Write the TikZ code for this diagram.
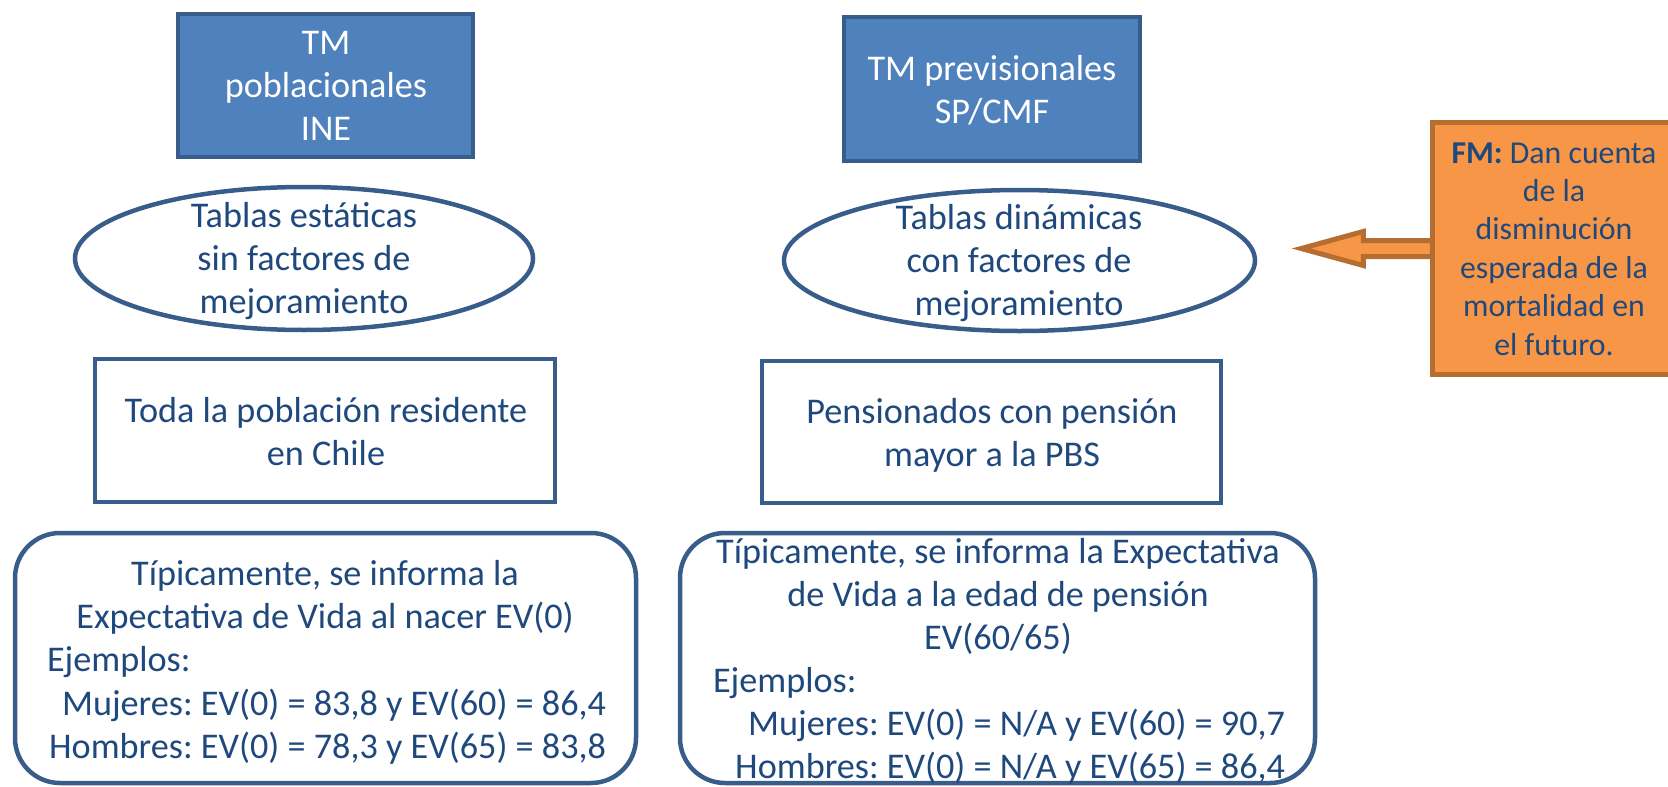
\documentclass[tikz,border=0pt]{standalone}
\usepackage{fontspec}
\setmainfont{Carlito}
\usetikzlibrary{shapes.geometric}
\definecolor{txt}{HTML}{1F497D}
\definecolor{brd}{HTML}{385D8A}
\definecolor{hdrfill}{HTML}{4F81BD}
\definecolor{orfill}{HTML}{F79646}
\definecolor{orbrd}{HTML}{B66D31}
\frenchspacing
\begin{document}
\begin{tikzpicture}[x=1pt,y=-1pt,
  every node/.style={inner sep=0pt, outer sep=0pt},
  body/.style={font=\fontsize{36.2}{43}\selectfont, text=txt, align=center, anchor=base},
  hdrtext/.style={body, text=white},
  hdrbox/.style={rectangle, draw=brd, fill=hdrfill, line width=4pt},
  plainbox/.style={rectangle, draw=brd, line width=4pt},
  ovalbox/.style={ellipse, draw=brd, line width=4.5pt},
  roundbox/.style={rectangle, rounded corners=45pt, draw=brd, line width=4.5pt},
  fmbox/.style={rectangle, draw=orbrd, fill=orfill, line width=5pt},
  fmarrow/.style={draw=orbrd, fill=orfill, line width=5pt, line join=miter},
  fmtext/.style={font=\fontsize{31.8}{38.4}\selectfont, text=txt, align=center, anchor=base}
]
\useasboundingbox (0,0) rectangle (1668,787);
\clip (0,0) rectangle (1668,787);

% left column (multi-line text nodes are placed by the baseline of their last line)
\node[hdrbox, minimum width=295, minimum height=143] (pob) at (325.5,85.5) {};
\node[hdrtext] (pobt) at (326,140) {TM\\poblacionales\\INE};
\node[ovalbox, minimum width=458, minimum height=143] (est) at (304,258.5) {};
\node[body] (estt) at (304,313) {Tablas estáticas\\sin factores de\\mejoramiento};
\node[plainbox, minimum width=460, minimum height=143] (res) at (325,430.5) {};
\node[body] (rest) at (326,465) {Toda la población residente\\en Chile};
\node[roundbox, minimum width=621, minimum height=250] (ev0) at (325.5,658) {};
\node[body] (ev0a) at (325,628) {Típicamente, se informa la\\Expectativa de Vida al nacer EV(0)};
\node[body, anchor=base west] (ev0b) at (47,671) {Ejemplos:};
\node[body, align=right, anchor=base east] (ev0c) at (606,758) {Mujeres: EV(0) = 83,8 y EV(60) = 86,4\\Hombres: EV(0) = 78,3 y EV(65) = 83,8};

% right column
\node[hdrbox, minimum width=296, minimum height=144] (prev) at (992,89) {};
\node[hdrtext] (prevt) at (992,123) {TM previsionales\\SP/CMF};
\node[ovalbox, minimum width=471, minimum height=141] (din) at (1019.5,260.5) {};
\node[body] (dint) at (1019,315) {Tablas dinámicas\\con factores de\\mejoramiento};
\node[plainbox, minimum width=459, minimum height=142] (pen) at (991.5,432) {};
\node[body] (pent) at (992,466) {Pensionados con pensión\\mayor a la PBS};
\node[roundbox, minimum width=635, minimum height=250] (ev6) at (997.5,658) {};
\node[body] (ev6a) at (998,649) {Típicamente, se informa la Expectativa\\de Vida a la edad de pensión\\EV(60/65)};
\node[body, anchor=base west] (ev6b) at (713,692) {Ejemplos:};
\node[body, align=right, anchor=base east] (ev6c) at (1285,778) {Mujeres: EV(0) = N/A y EV(60) = 90,7\\Hombres: EV(0) = N/A y EV(65) = 86,4};

% FM callout
\node[fmbox, minimum width=267.5, minimum height=252] (fm) at (1566,248.5) {};
\draw[fmarrow] (fm.west) ++(0,-8) -- ++(-69,0) -- ++(0,-9) -- ++(-62,17) -- ++(62,17) -- ++(0,-9) -- ++(69,0) -- cycle;
\node[fmbox, minimum width=267.5, minimum height=252] (fmcover) at (fm.center) {};
\node[fmtext] (fmt) at (1554,355) {\textbf{FM:} Dan cuenta\\de la\\disminución\\esperada de la\\mortalidad en\\el futuro.};
\end{tikzpicture}
\end{document}
